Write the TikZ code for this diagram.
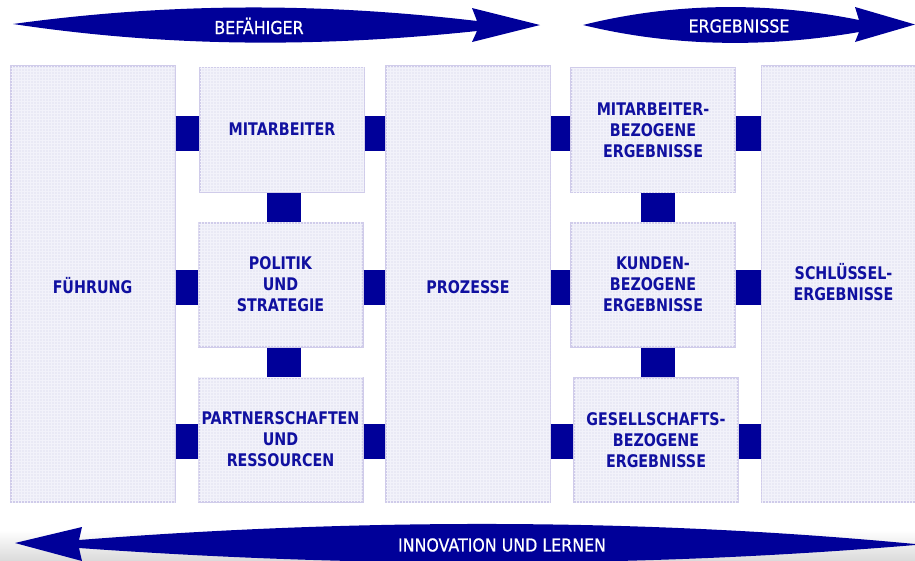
\documentclass[tikz,border=0pt]{standalone}
\usepackage{fontspec}
\setmainfont{DejaVu Sans}
\newfontfamily\boxfont{DejaVu Sans}[FakeStretch=0.82]
\newfontfamily\arrowfont{DejaVu Sans}[FakeStretch=0.89,FakeBold=0.7]
\usetikzlibrary{calc,patterns}
\definecolor{efqmblue}{RGB}{0,0,153}
\definecolor{textblue}{RGB}{16,16,160}
\definecolor{boxfill}{RGB}{233,233,245}
\definecolor{boxgrid}{RGB}{242,242,250}
\definecolor{boxline}{RGB}{208,204,234}
\tikzset{
  field/.style={draw=boxline,line width=2pt,fill=boxfill,postaction={pattern=grid,pattern color=boxgrid},minimum width=164pt,minimum height=124pt,inner sep=0pt,align=center,text=textblue,font=\boxfont\bfseries\fontsize{17.4}{21}\selectfont},
  tallfield/.style={field,minimum height=436pt},
  hlink/.style={draw=efqmblue,line width=35pt},
  vlink/.style={draw=efqmblue,line width=34pt},
  banner/.style={fill=efqmblue},
  bannertext/.style={text=white,inner sep=0pt,font=\arrowfont\fontsize{17.8}{21}\selectfont}
}

\begin{document}
\begin{tikzpicture}[x=1pt,y=-1pt]
\useasboundingbox (0,0) rectangle (915,560);
\clip (0,0) rectangle (915,560);
\shade[top color=white,bottom color=gray!28] (0,530) rectangle (915,560);
% enablers and results
\node[tallfield,text height=19pt] (fuehrung) at (92.5,284) {FÜHRUNG};
\node[field] (mitarb) at (282,129.5) {MITARBEITER};
\node[field] (politik) at (280.5,284.5) {POLITIK\\UND\\STRATEGIE};
\node[field] (partner) at (280.5,439.5) {PARTNERSCHAFTEN\\UND\\RESSOURCEN};
\node[tallfield,text height=19pt] (prozesse) at (468,284) {PROZESSE};
\node[field] (merg) at (653,130) {MITARBEITER-\\BEZOGENE\\ERGEBNISSE};
\node[field] (kerg) at (653,284.5) {KUNDEN-\\BEZOGENE\\ERGEBNISSE};
\node[field] (gerg) at (656,440) {GESELLSCHAFTS-\\BEZOGENE\\ERGEBNISSE};
\node[tallfield,text depth=5pt] (schluessel) at (843.5,284) {SCHLÜSSEL-\\ERGEBNISSE};
% links
\draw[hlink] ($(fuehrung.east|-mitarb)+(0,4)$) -- ($(mitarb.west)+(0,4)$);
\draw[hlink] ($(mitarb.east)+(0,4)$) -- ($(prozesse.west|-mitarb)+(0,4)$);
\draw[hlink] ($(prozesse.east|-merg)+(0,3.5)$) -- ($(merg.west)+(0,3.5)$);
\draw[hlink] ($(merg.east)+(0,3.5)$) -- ($(schluessel.west|-merg)+(0,3.5)$);
\draw[hlink] ($(fuehrung.east|-politik)+(0,2.5)$) -- ($(politik.west)+(0,2.5)$);
\draw[hlink] ($(politik.east)+(0,2.5)$) -- ($(prozesse.west|-politik)+(0,2.5)$);
\draw[hlink] ($(prozesse.east|-kerg)+(0,2.5)$) -- ($(kerg.west)+(0,2.5)$);
\draw[hlink] ($(kerg.east)+(0,2.5)$) -- ($(schluessel.west|-kerg)+(0,2.5)$);
\draw[hlink] ($(fuehrung.east|-partner)+(0,2)$) -- ($(partner.west)+(0,2)$);
\draw[hlink] ($(partner.east)+(0,2)$) -- ($(prozesse.west|-partner)+(0,2)$);
\draw[hlink] ($(prozesse.east|-gerg)+(0,1.5)$) -- ($(gerg.west)+(0,1.5)$);
\draw[hlink] ($(gerg.east)+(0,1.5)$) -- ($(schluessel.west|-gerg)+(0,1.5)$);
\draw[vlink] ($(mitarb.south)+(1.5,0)$) -- ($(politik.north)+(3,0)$);
\draw[vlink] ($(politik.south)+(3,0)$) -- ($(partner.north)+(3,0)$);
\draw[vlink] ($(merg.south)+(5,0)$) -- ($(kerg.north)+(5,0)$);
\draw[vlink] ($(kerg.south)+(5,0)$) -- ($(kerg.south|-gerg.north)+(5,0)$);
% arrows
\fill[banner] (13,24) .. controls (170,2.5) and (320,2.5) .. (477,21)
  .. controls (474,15) .. (472,8) -- (540,25) -- (472,42)
  .. controls (474,36) .. (477,31) .. controls (320,47.5) and (170,47.5) .. (13,24) -- cycle;
\node[bannertext] (befaehiger) at (259,26) {BEFÄHIGER};
\fill[banner] (583,25) .. controls (675,2) and (770,2) .. (859,20)
  .. controls (857,14) .. (855,7) -- (915,24.5) -- (855,42)
  .. controls (857,37) .. (859,32) .. controls (770,47.5) and (675,47.5) .. (583,25) -- cycle;
\node[bannertext] (ergebnisse) at (739,26) {ERGEBNISSE};
\fill[banner] (915,544) .. controls (640,518) and (360,518) .. (79,540)
  .. controls (80,533) .. (82,527) -- (15,543) -- (82,561)
  .. controls (80,554) .. (79,548) .. controls (360,568) and (640,568) .. (915,545) -- cycle;
\node[bannertext] (lernen) at (502,545) {INNOVATION UND LERNEN};
\end{tikzpicture}
\end{document}
